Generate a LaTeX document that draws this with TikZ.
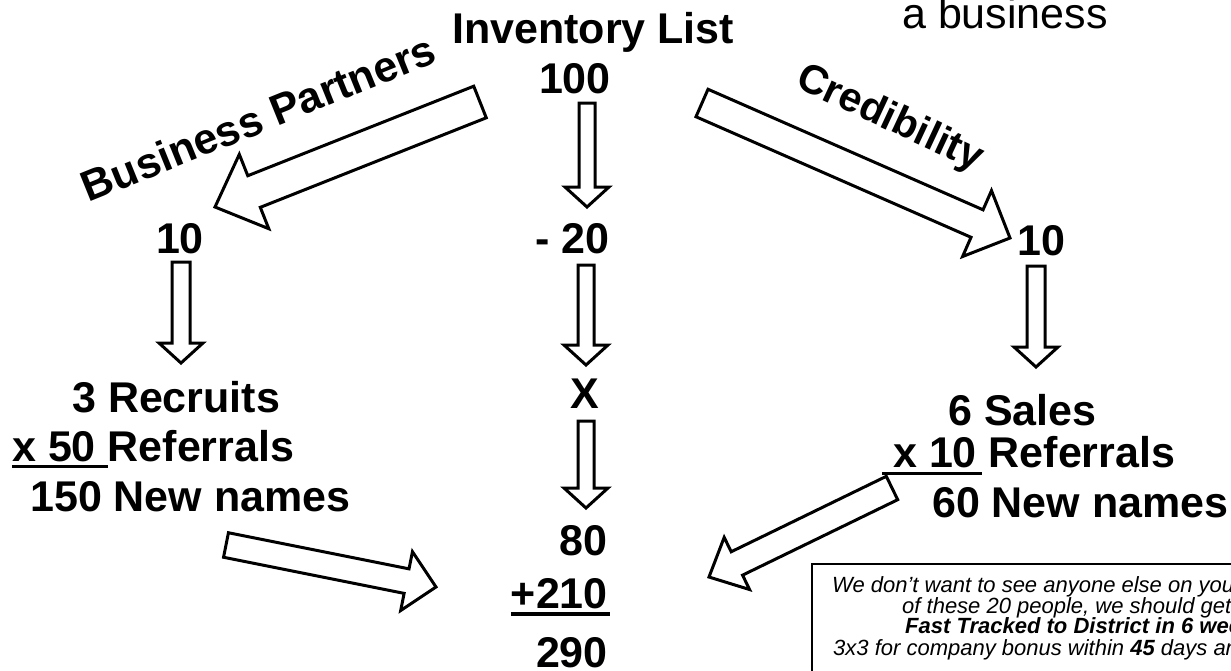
\documentclass[tikz,border=0pt]{standalone}
\usepackage{fontspec}
\setmainfont{Liberation Sans}
\usetikzlibrary{calc}
\tikzset{
  big/.style={font=\bfseries\fontsize{43}{43}\selectfont, inner sep=0pt},
  plain/.style={font=\fontsize{43}{43}\selectfont, inner sep=0pt},
  note/.style={font=\itshape\fontsize{22}{22}\selectfont, inner sep=0pt, anchor=base west},
  blk/.style={draw=black, fill=white, line width=3pt, line join=miter},
  uline/.style={line width=3pt},
}
% #1 tail, #2 tip, #3 shaft half width, #4 head half width, #5 head length
\newcommand\blockarrow[5]{%
  \path ($(#2)!#5!(#1)$) coordinate (hb);
  \draw[blk] ($(#1)!#3!90:(#2)$) -- ($(hb)!#3!-90:(#1)$) -- ($(hb)!#4!-90:(#1)$)
    -- (#2) -- ($(hb)!#4!90:(#1)$) -- ($(hb)!#3!90:(#1)$) -- ($(#1)!#3!-90:(#2)$) -- cycle;}
\begin{document}
\begin{tikzpicture}[x=1pt,y=-1pt]
\useasboundingbox (0,0) rectangle (1231,670);
\clip (0,0) rectangle (1231,670);
\fill[white] (0,0) rectangle (1231,670);

% titles
\node[big, anchor=base west] (inv) at (452,43) {Inventory List};
\node[plain, anchor=base west] (biz) at (902,28) {a business};

% centre column
\node[big, anchor=base east] (n100) at (611,93) {100};
\node[big, anchor=base east] (n20) at (610,253) {- 20};
\node[big, anchor=base east] (nx) at (599,408) {X};
\node[big, anchor=base east] (n80) at (608,555) {80};
\node[big, anchor=base east] (n210) at (608,608) {+210};
\draw[line width=4pt] ($(n210.base west)+(0,6)$) -- ($(n210.base east)+(2,6)$);
\node[big, anchor=base east] (n290) at (608,667) {290};

% left column
\node[big, anchor=base] (l10) at (180,253) {10};
\node[big, anchor=base west] (rec) at (72,412) {3 Recruits};
\node[big, anchor=base west] (lref) at (12,461) {x 50 Referrals};
\draw[uline] (12,466) -- (108,466);
\node[big, anchor=base west] (lnew) at (30,511) {150 New names};

% right column
\node[big, anchor=base] (r10) at (1041,255) {10};
\node[big, anchor=base west] (sal) at (948,425) {6 Sales};
\node[big, anchor=base west] (rref) at (893,467) {x 10 Referrals};
\draw[uline] (882,473) -- (982,473);
\node[big, anchor=base west] (rnew) at (932,517) {60 New names};

% rotated labels
\node[big, anchor=base, rotate=22] (bp) at (264,132) {Business Partners};
\node[font=\bfseries\fontsize{41}{41}\selectfont, inner sep=0pt, anchor=base, rotate=-25] (cr) at (885,129) {Credibility};

% arrow end points
\coordinate (c1t) at (587,103); \coordinate (c1h) at (587,207);
\coordinate (c2t) at (586,265); \coordinate (c2h) at (586,365);
\coordinate (c3t) at (586,421); \coordinate (c3h) at (586,508);
\coordinate (l1t) at (181,262); \coordinate (l1h) at (181,363);
\coordinate (r1t) at (1036,266); \coordinate (r1h) at (1036,367);
\coordinate (bpt) at (480,102); \coordinate (bph) at (215,207);
\coordinate (crt) at (702,103); \coordinate (crh) at (1010,238);
\coordinate (blt) at (226,545); \coordinate (blh) at (436,587);
\coordinate (brt) at (892,488); \coordinate (brh) at (709,577);

\blockarrow{c1t}{c1h}{8pt}{22pt}{20pt}
\blockarrow{c2t}{c2h}{8pt}{22pt}{20pt}
\blockarrow{c3t}{c3h}{8pt}{22pt}{20pt}
\blockarrow{l1t}{l1h}{9pt}{22pt}{20pt}
\blockarrow{r1t}{r1h}{9pt}{22pt}{20pt}
\blockarrow{bpt}{bph}{17pt}{40pt}{42pt}
\blockarrow{crt}{crh}{15pt}{36pt}{36pt}
\blockarrow{blt}{blh}{12.5pt}{30pt}{30pt}
\blockarrow{brt}{brh}{13pt}{29pt}{31pt}

% note box
\draw[line width=2pt] (812,564) rectangle (1260,700);
\node[note] (t1) at (832,592) {We don't want to see anyone else on your};
\node[note] (t2) at (902,613) {of these 20 people, we should get};
\node[note, font=\bfseries\itshape\fontsize{22}{22}\selectfont] (t3) at (905,633) {Fast Tracked to District in 6 weeks};
\node[note] (t4) at (833,655) {3x3 for company bonus within \textbf{45} days and};
\end{tikzpicture}
\end{document}
